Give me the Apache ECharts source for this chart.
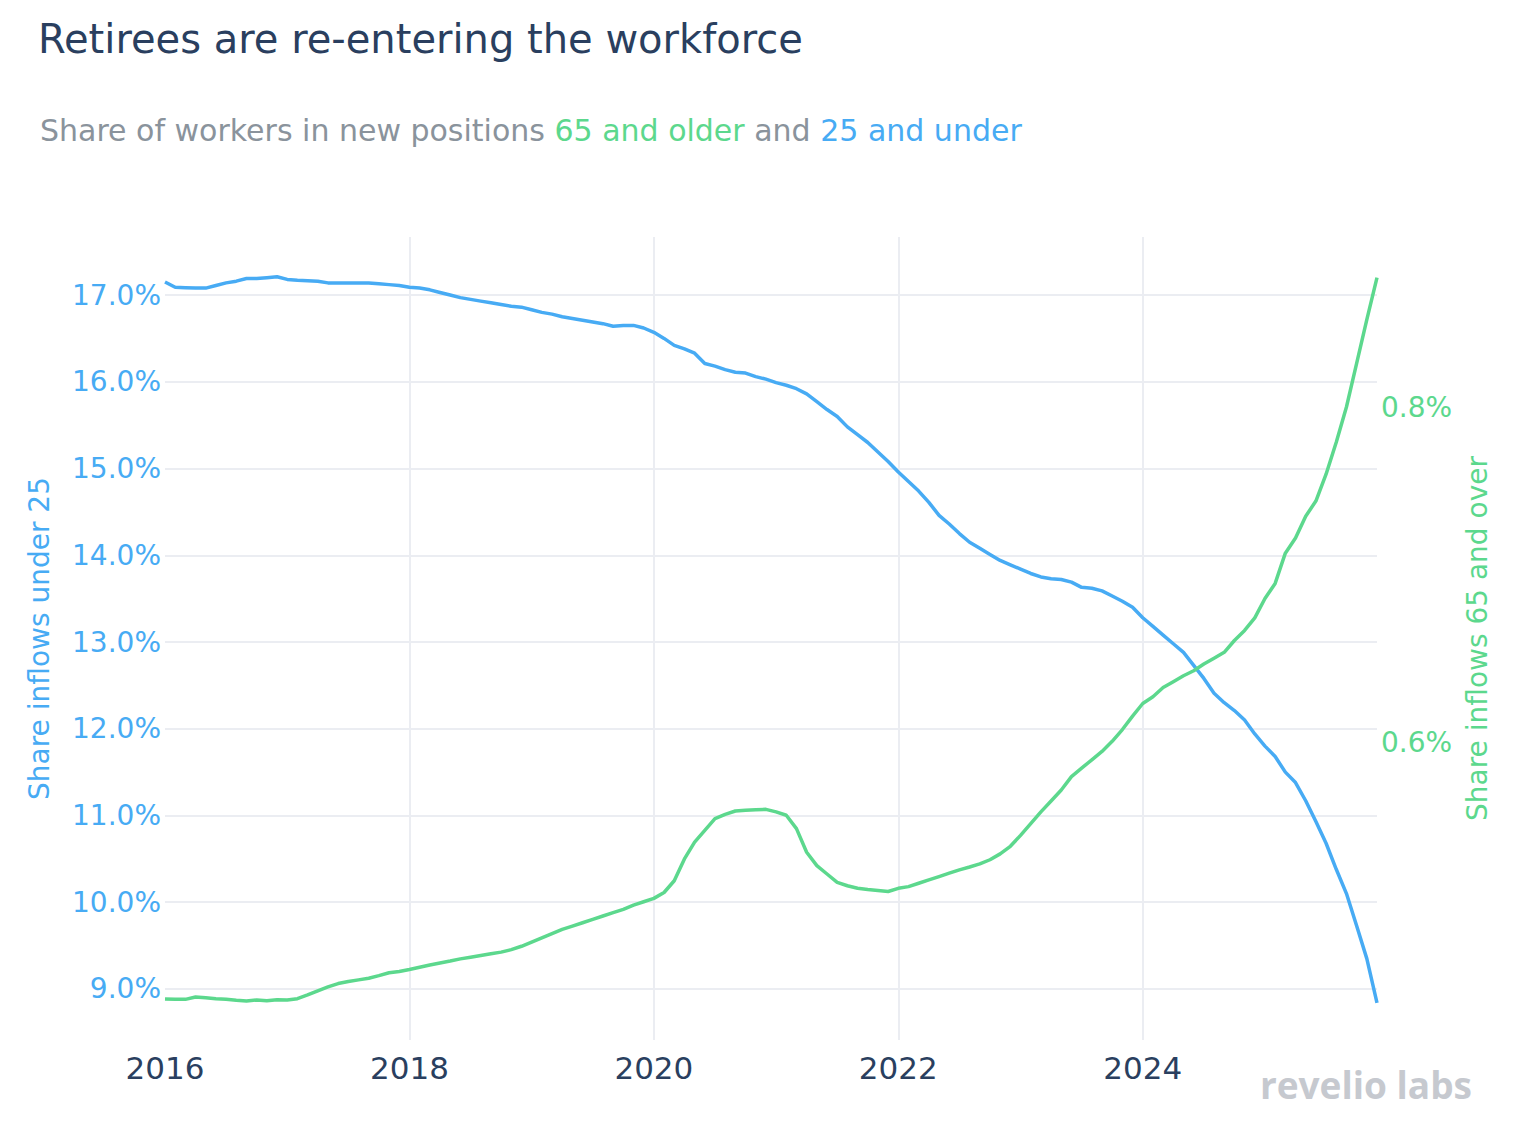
<!DOCTYPE html>
<html><head><meta charset="utf-8">
<script src="https://cdn.jsdelivr.net/npm/echarts@6/dist/echarts.min.js"></script>
<style>html,body{margin:0;padding:0;background:#fff}#c{width:1536px;height:1140px}</style>
</head><body><div id="c"></div>
<script>
// Monthly observations, Jan 2016 .. Dec 2025
const startYear = 2016;
const months = [];
for (let y = 2016; y <= 2025; y++) for (let m = 1; m <= 12; m++) months.push(y + '-' + String(m).padStart(2, '0'));

const under25 = [
17.15,17.09,17.085,17.08,17.08,17.11,17.14,17.16,17.19,17.19,17.20,17.21,
17.18,17.17,17.165,17.16,17.14,17.14,17.14,17.14,17.14,17.13,17.12,17.11,
17.09,17.08,17.06,17.03,17.00,16.97,16.95,16.93,16.91,16.89,16.87,16.86,
16.83,16.80,16.78,16.75,16.73,16.71,16.69,16.67,16.64,16.65,16.65,16.62,
16.57,16.50,16.42,16.38,16.33,16.21,16.18,16.14,16.11,16.10,16.06,16.03,
15.99,15.96,15.92,15.86,15.77,15.68,15.60,15.48,15.39,15.30,15.19,15.08,
14.96,14.85,14.74,14.61,14.46,14.36,14.25,14.15,14.08,14.01,13.94,13.89,
13.84,13.79,13.75,13.73,13.72,13.69,13.63,13.62,13.59,13.53,13.47,13.40,
13.28,13.18,13.08,12.98,12.88,12.73,12.58,12.41,12.30,12.21,12.10,11.94,
11.80,11.68,11.50,11.38,11.17,10.93,10.68,10.38,10.10,9.73,9.35,8.84
];
const over65 = [
0.4476,0.4474,0.4474,0.4488,0.4484,0.4478,0.4474,0.4468,0.4464,0.4470,0.4466,0.4472,
0.4470,0.4478,0.4500,0.4525,0.4548,0.4568,0.4580,0.4590,0.4600,0.4615,0.4632,0.4640,
0.4652,0.4665,0.4678,0.4690,0.4702,0.4715,0.4725,0.4735,0.4745,0.4755,0.4770,0.4790,
0.4815,0.4840,0.4865,0.4890,0.4910,0.4930,0.4950,0.4970,0.4990,0.5010,0.5035,0.5055,
0.5075,0.5110,0.5180,0.5310,0.5410,0.5480,0.5550,0.5575,0.5595,0.5600,0.5603,0.5605,
0.5590,0.5570,0.5490,0.5350,0.5270,0.5220,0.5170,0.5150,0.5135,0.5128,0.5122,0.5116,
0.5135,0.5145,0.5165,0.5185,0.5205,0.5225,0.5245,0.5262,0.5280,0.5305,0.5340,0.5385,
0.5450,0.5520,0.5590,0.5655,0.5720,0.5800,0.5850,0.5900,0.5950,0.6010,0.6080,0.6160,
0.6235,0.6275,0.6330,0.6365,0.6400,0.6430,0.6470,0.6505,0.6540,0.6610,0.6670,0.6745,
0.6860,0.6950,0.7130,0.7220,0.7350,0.7440,0.7600,0.7790,0.8000,0.8260,0.8520,0.8770
];
const xTickLabels = ['2016','2018','2020','2022','2024'];
const leftTicks = ['9.0%','10.0%','11.0%','12.0%','13.0%','14.0%','15.0%','16.0%','17.0%'];
const rightTicks = ['0.6%','0.8%'];

const BLUE = '#47abf4', GREEN = '#5cd88d', NAVY = '#2a3f5f', GREY = '#8a939c';
const FONT = 'DejaVu Sans';

function toYear(m) { const [y, mo] = m.split('-').map(Number); return y + (mo - 1) / 12; }
const blueData = months.map((m, i) => [toYear(m), under25[i]]);
const greenData = months.map((m, i) => [toYear(m), over65[i]]);

const chart = echarts.init(document.getElementById('c'), null, {renderer: 'svg'});
chart.setOption({
  backgroundColor: '#fff',
  animation: false,
  textStyle: {fontFamily: FONT},
  title: [
    {text: 'Retirees are re-entering the workforce', left: 33, top: 14,
     textStyle: {fontFamily: FONT, fontSize: 40, fontWeight: 'normal', color: NAVY}},
    {text: '{g|Share of workers in new positions }{gr|65 and older}{g| and }{b|25 and under}', left: 35, top: 110,
     textStyle: {fontFamily: FONT, fontSize: 30, fontWeight: 'normal', rich: {
       g: {fontFamily: FONT, fontSize: 30, color: GREY},
       gr: {fontFamily: FONT, fontSize: 30, color: GREEN},
       b: {fontFamily: FONT, fontSize: 30, color: BLUE}}}}
  ],
  grid: {left: 165, right: 159, top: 237, bottom: 100, containLabel: false},
  xAxis: {
    type: 'value', min: startYear, max: startYear + 119 / 12, interval: 2,
    axisLine: {show: false}, axisTick: {show: false},
    axisLabel: {fontFamily: FONT, fontSize: 31, color: NAVY, margin: 12, showMaxLabel: false,
      formatter: v => { const i = xTickLabels.indexOf(String(Math.round(v))); return (Math.abs(v - Math.round(v)) < 1e-6 && i >= 0) ? xTickLabels[i] : ''; }},
    splitLine: {show: true, showMinLine: false, showMaxLine: false, lineStyle: {color: '#ebedf2', width: 2}}
  },
  yAxis: [
    {type: 'value', min: 8.412, max: 17.669, splitNumber: 9, position: 'left',
     name: 'Share inflows under 25', nameLocation: 'middle', nameRotate: 90, nameGap: 112,
     nameTextStyle: {fontFamily: FONT, fontSize: 28, color: BLUE},
     axisLine: {show: false}, axisTick: {show: false},
     axisLabel: {fontFamily: FONT, fontSize: 28, color: BLUE, margin: 4, showMinLabel: false, showMaxLabel: false,
       formatter: v => { const s = v.toFixed(1) + '%'; return leftTicks.includes(s) ? s : ''; }},
     splitLine: {show: true, showMinLine: false, showMaxLine: false, lineStyle: {color: '#ebedf2', width: 2}}},
    {type: 'value', min: 0.4232, max: 0.9012, splitNumber: 2, position: 'right',
     name: 'Share inflows 65 and over', nameLocation: 'middle', nameRotate: 90, nameGap: 86,
     nameTextStyle: {fontFamily: FONT, fontSize: 28, color: GREEN},
     axisLine: {show: false}, axisTick: {show: false},
     axisLabel: {fontFamily: FONT, fontSize: 28, color: GREEN, margin: 4, showMinLabel: false, showMaxLabel: false,
       formatter: v => { const s = v.toFixed(1) + '%'; return rightTicks.includes(s) ? s : ''; }},
     splitLine: {show: false}}
  ],
  series: [
    {name: '25 and under', type: 'line', yAxisIndex: 0, data: blueData, showSymbol: false, smooth: false,
     lineStyle: {color: BLUE, width: 3.5}, itemStyle: {color: BLUE}},
    {name: '65 and older', type: 'line', yAxisIndex: 1, data: greenData, showSymbol: false, smooth: false,
     lineStyle: {color: GREEN, width: 3.5}, itemStyle: {color: GREEN}}
  ],
  graphic: [
    {type: 'text', right: 64, top: 1066, style: {text: 'revelio labs', fontFamily: 'Open Sans', fontSize: 37, fontWeight: 'bold', fill: '#c6c9cf'}}
  ]
});
</script></body></html>
